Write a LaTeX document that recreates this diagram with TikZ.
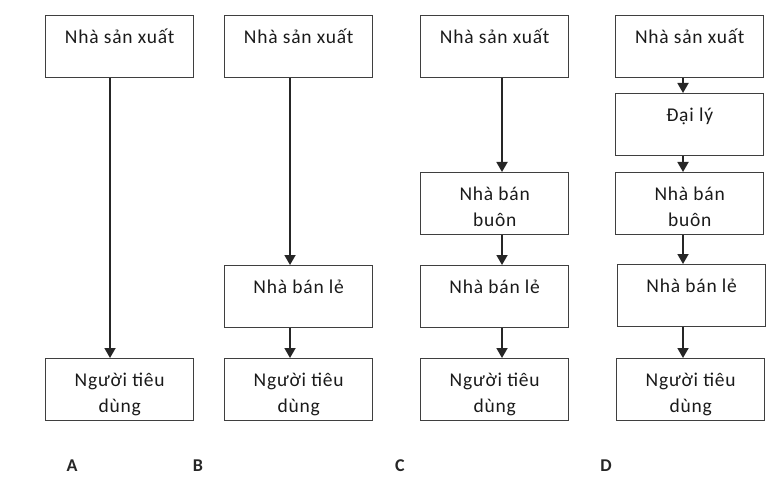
\documentclass[tikz,border=0pt]{standalone}
\usepackage{fontspec}
\setmainfont{Carlito}[LetterSpace=4]
\usetikzlibrary{arrows.meta}
\definecolor{boxgray}{HTML}{3F3F3F}
\definecolor{txtgray}{HTML}{1A1A1A}
% text sits at the top of each box
\newcommand{\boxtext}[1]{\parbox[b][62pt][t]{144pt}{\centering\vspace*{10pt}\strut#1\strut}}
\begin{document}
\begin{tikzpicture}[x=1pt, y=-1pt,
    box/.style={draw=boxgray, line width=1.4pt, inner sep=0pt, anchor=north west,
        minimum width=148pt, minimum height=62pt, text=txtgray,
        font=\fontsize{19.5}{26}\selectfont},
    arr/.style={line width=1.8pt, draw=black!85, -{Triangle[length=10pt,width=11pt]}},
    lbl/.style={font=\fontsize{18}{20}\selectfont\bfseries, text=black!85}]
    \useasboundingbox (0,0) rectangle (778,486);
    % A
    \node[box] (a1) at (45,15) {\boxtext{Nhà sản xuất}};
    \node[box] (a2) at (45,358) {\boxtext{Người tiêu\\dùng}};
    \coordinate (ax) at (110,0);
    \draw[arr] (a1.south -| ax) -- (a2.north -| ax);
    % B
    \node[box] (b1) at (224,15) {\boxtext{Nhà sản xuất}};
    \node[box] (b2) at (224,265) {\boxtext{Nhà bán lẻ}};
    \node[box] (b3) at (224,358) {\boxtext{Người tiêu\\dùng}};
    \coordinate (bx) at (290,0);
    \draw[arr] (b1.south -| bx) -- (b2.north -| bx);
    \draw[arr] (b2.south -| bx) -- (b3.north -| bx);
    % C
    \node[box] (c1) at (420,15) {\boxtext{Nhà sản xuất}};
    \node[box] (c2) at (420,172) {\boxtext{Nhà bán\\buôn}};
    \node[box] (c3) at (420,265) {\boxtext{Nhà bán lẻ}};
    \node[box] (c4) at (420,358) {\boxtext{Người tiêu\\dùng}};
    \coordinate (cx) at (502,0);
    \draw[arr] (c1.south -| cx) -- (c2.north -| cx);
    \draw[arr] (c2.south -| cx) -- (c3.north -| cx);
    \draw[arr] (c3.south -| cx) -- (c4.north -| cx);
    % D
    \node[box] (d1) at (615,15) {\boxtext{Nhà sản xuất}};
    \node[box] (d2) at (615,93) {\boxtext{Đại lý}};
    \node[box] (d3) at (615,172) {\boxtext{Nhà bán\\buôn}};
    \node[box] (d4) at (617,264) {\boxtext{Nhà bán lẻ}};
    \node[box] (d5) at (616,358) {\boxtext{Người tiêu\\dùng}};
    \coordinate (dx) at (683,0);
    \draw[arr] (d1.south -| dx) -- (d2.north -| dx);
    \draw[arr] (d2.south -| dx) -- (d3.north -| dx);
    \draw[arr] (d3.south -| dx) -- (d4.north -| dx);
    \draw[arr] (d4.south -| dx) -- (d5.north -| dx);
    % labels
    \node[lbl] (la) at (72,466) {A};
    \node[lbl] (lb) at (198,466) {B};
    \node[lbl] (lc) at (400,466) {C};
    \node[lbl] (ld) at (606,466) {D};
\end{tikzpicture}
\end{document}
